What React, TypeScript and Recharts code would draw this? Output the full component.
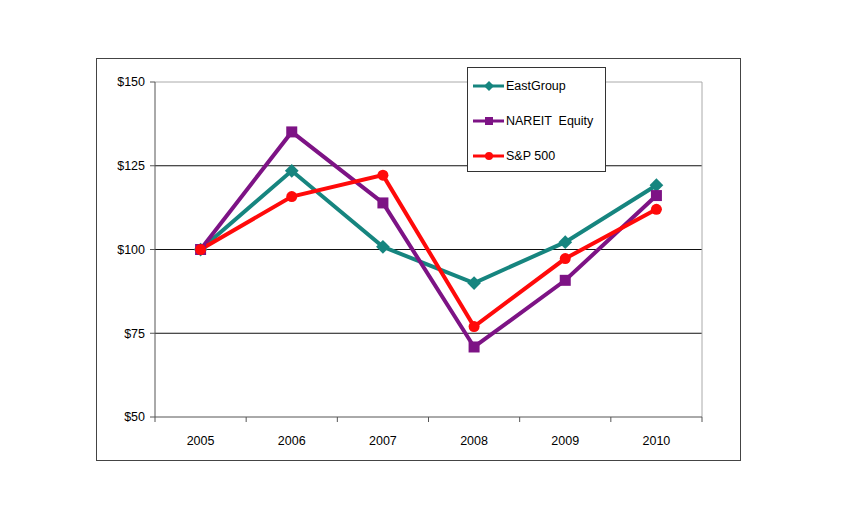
import { LineChart, Line, XAxis, YAxis, CartesianGrid, ReferenceLine } from 'recharts';

// values indexed to $100 in 2005
const years = ['2005', '2006', '2007', '2008', '2009', '2010'];
const eastGroup = [100, 123.5, 100.8, 90, 102.2, 119.2];
const nareit = [100, 135.1, 113.9, 70.9, 90.8, 116.1];
const sp500 = [100, 115.8, 122.2, 77.0, 97.3, 112.0];
const yTicks = [50, 75, 100, 125, 150];
const xTicks = [0, 1, 2, 3, 4, 5, 6];

// x = centre of each year's slot; ticks sit on the slot edges
const data = years.map((year, i) => ({
  x: i + 0.5,
  year,
  eastGroup: eastGroup[i],
  nareit: nareit[i],
  sp500: sp500[i],
}));

type Shape = 'diamond' | 'square' | 'circle';

const series: { key: string; name: string; color: string; shape: Shape }[] = [
  { key: 'eastGroup', name: 'EastGroup', color: '#16857f', shape: 'diamond' },
  { key: 'nareit', name: 'NAREIT  Equity', color: '#7d1385', shape: 'square' },
  { key: 'sp500', name: 'S&P 500', color: '#ff0a0a', shape: 'circle' },
];

const font = '"Liberation Sans", Arial, sans-serif';
const plotWidth = 547;
const halfSlot = plotWidth / years.length / 2;

function Marker({ cx, cy, shape, color, r }: { cx: number; cy: number; shape: Shape; color: string; r: number }) {
  if (shape === 'diamond') {
    const d = r * 1.25;
    return <polygon points={`${cx},${cy - d} ${cx + d},${cy} ${cx},${cy + d} ${cx - d},${cy}`} fill={color} />;
  }
  if (shape === 'square') {
    return <rect x={cx - r} y={cy - r} width={r * 2} height={r * 2} fill={color} />;
  }
  return <circle cx={cx} cy={cy} r={r} fill={color} />;
}

const makeDot = (shape: Shape, color: string) => (props: any) => {
  const { cx, cy, index } = props;
  if (cx == null || cy == null) return <g key={index} />;
  return (
    <g key={index}>
      <Marker cx={cx} cy={cy} shape={shape} color={color} r={5.5} />
    </g>
  );
};

const YearTick = (props: any) => {
  const { x, y, payload } = props;
  const label = years[payload.value];
  if (!label) return <g />;
  return (
    <text x={x + halfSlot} y={y + 21} textAnchor="middle" fontFamily={font} fontSize={12.5} fill="#000">
      {label}
    </text>
  );
};

function LegendBox() {
  return (
    <div
      style={{
        position: 'absolute',
        left: 467,
        top: 67,
        width: 139,
        height: 105,
        border: '1px solid #333',
        background: '#fff',
        fontFamily: font,
        fontSize: 12.5,
        color: '#000',
        boxSizing: 'border-box',
      }}
    >
      {series.map((s, i) => (
        <div
          key={s.key}
          style={{ position: 'absolute', left: 5, top: 10 + i * 35, display: 'flex', alignItems: 'center', height: 16 }}
        >
          <svg width={32} height={14}>
            <line x1={0} y1={7} x2={31} y2={7} stroke={s.color} strokeWidth={3} />
            <Marker cx={16} cy={7} shape={s.shape} color={s.color} r={4} />
          </svg>
          <span style={{ marginLeft: 1, whiteSpace: 'pre' }}>{s.name}</span>
        </div>
      ))}
    </div>
  );
}

export default function App() {
  return (
    <div style={{ position: 'absolute', left: 0, top: 0, width: 844, height: 515, background: '#fff' }}>
      <div
        style={{
          position: 'absolute',
          left: 96,
          top: 58,
          width: 645,
          height: 403,
          border: '1px solid #444',
          boxSizing: 'border-box',
        }}
      />
      <div style={{ position: 'absolute', left: 0, top: 0 }}>
        <LineChart width={844} height={515} data={data} margin={{ top: 82, right: 142, bottom: 68, left: 105 }}>
          <CartesianGrid vertical={false} horizontalValues={[75, 100, 125]} stroke="#111" strokeWidth={1} />
          <XAxis
            dataKey="x"
            type="number"
            domain={[0, 6]}
            ticks={xTicks}
            tickSize={5}
            height={30}
            stroke="#555"
            interval={0}
            tick={<YearTick />}
          />
          <YAxis
            domain={[50, 150]}
            ticks={yTicks}
            width={50}
            tickSize={5}
            stroke="#555"
            tickFormatter={(v) => `$${v}`}
            tick={{ fontFamily: font, fontSize: 12.5, fill: '#000', dx: -3 }}
          />
          <ReferenceLine y={150} stroke="#aaa" />
          <ReferenceLine x={6} stroke="#aaa" />
          {series.map((s) => (
            <Line
              key={s.key}
              dataKey={s.key}
              name={s.name}
              type="linear"
              stroke={s.color}
              strokeWidth={4}
              dot={makeDot(s.shape, s.color)}
              activeDot={false}
              isAnimationActive={false}
            />
          ))}
        </LineChart>
      </div>
      <LegendBox />
    </div>
  );
}
